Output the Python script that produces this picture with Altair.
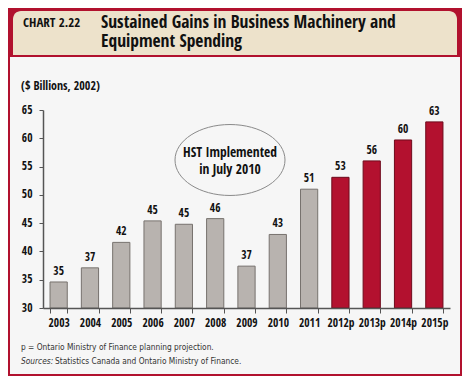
import altair as alt
import pandas as pd

years = ["2003", "2004", "2005", "2006", "2007", "2008", "2009", "2010", "2011",
         "2012p", "2013p", "2014p", "2015p"]
values = [34.6, 37.1, 41.6, 45.4, 44.8, 45.8, 37.4, 43.0, 51.0, 53.1, 56.0, 59.7, 62.9]
value_labels = ["35", "37", "42", "45", "45", "46", "37", "43", "51", "53", "56", "60", "63"]
kinds = ["actual"] * 9 + ["projection"] * 4
y_ticks = [30, 35, 40, 45, 50, 55, 60, 65]

df = pd.DataFrame({"year": years, "value": values, "label": value_labels, "kind": kinds})

FONT = "Open Sans Condensed, Liberation Sans"
FOOT = "DejaVu Sans Condensed, Liberation Sans"
RED = "#B3112F"
GRAY = "#B8B3AF"

one = pd.DataFrame({"a": [0]})

def txt(s, x, y, size=12, weight="bold", style="normal", align="left", color="#111111", font=FONT):
    return alt.Chart(one).mark_text(
        text=s, align=align, baseline="alphabetic", fontSize=size, fontWeight=weight,
        fontStyle=style, font=font, color=color
    ).encode(x=alt.value(x), y=alt.value(y))

panel = alt.Chart(one).mark_rect(color="#F6F6F6").encode(
    x=alt.value(-33), x2=alt.value(417), y=alt.value(-53), y2=alt.value(264))
header = alt.Chart(one).mark_rect(
    color="#EDE2CB", cornerRadiusTopLeft=8, cornerRadiusTopRight=8).encode(
    x=alt.value(-30), x2=alt.value(414), y=alt.value(-99), y2=alt.value(-55))

ellipse = alt.Chart(one).mark_point(
    shape="M -1 0 A 1 0.645 0 1 1 1 0 A 1 0.645 0 1 1 -1 0 Z",
    size=12100, filled=False, stroke="#8A8A8A", strokeWidth=1, opacity=1
).encode(x=alt.value(187), y=alt.value(50))

x_enc = alt.X("year:N", sort=years, title=None,
              scale=alt.Scale(paddingInner=0.45, paddingOuter=0.225),
              axis=alt.Axis(labelAngle=0, labelFont=FONT, labelFontSize=11.5,
                            labelFontWeight="bold", labelColor="#111111", labelOverlap=False,
                            tickBand="extent", tickSize=5, labelPadding=4, zindex=1,
                            domainColor="#555555", tickColor="#555555", domainWidth=1.5))
y_enc = alt.Y("value:Q", title=None,
              scale=alt.Scale(domain=[30, 65], zero=False, nice=False),
              axis=alt.Axis(values=y_ticks, grid=False, labelFont=FONT, labelFontSize=11.5,
                            labelFontWeight="bold", labelColor="#111111", tickSize=4, zindex=1,
                            labelOverlap=False, labelFlush=False,
                            labelPadding=7, domainColor="#555555", tickColor="#555555",
                            domainWidth=1.5))

color = alt.Color("kind:N", scale=alt.Scale(domain=["actual", "projection"], range=[GRAY, RED]),
                  legend=None)
stroke = alt.Stroke("kind:N", scale=alt.Scale(domain=["actual", "projection"],
                                               range=["#77726E", "#6E0A1C"]), legend=None)

bars = alt.Chart(df).mark_bar(strokeWidth=1).encode(
    x=x_enc, y=y_enc, y2=alt.datum(30), color=color, stroke=stroke)
labels = alt.Chart(df).mark_text(
    baseline="bottom", dy=-5, font=FONT, fontSize=11.5, fontWeight="bold", color="#111111"
).encode(x=x_enc, y=y_enc, text="label:N")

chart = alt.layer(
    panel, header,
    txt("CHART 2.22", -20, -82.7, size=13),
    txt("Sustained Gains in Business Machinery and", 58, -82, size=17.5),
    txt("Equipment Spending", 58, -63.5, size=17.5),
    txt("($ Billions, 2002)", -22, -20, size=12),
    ellipse,
    txt("HST Implemented", 187, 47, size=13.5, align="center"),
    txt("in July 2010", 187, 64, size=13.5, align="center"),
    bars, labels,
    txt("p = Ontario Ministry of Finance planning projection.", -22, 240, size=8.3,
        weight="normal", font=FOOT, color="#333333"),
    txt("Sources:", -22, 254, size=8.3, weight="normal", style="italic", font=FOOT, color="#333333"),
    txt("Statistics  Canada and Ontario Ministry of Finance.", 12, 254, size=8.3,
        weight="normal", font=FOOT, color="#333333"),
).properties(
    width=407, height=198,
    padding={"left": 35, "top": 102, "right": 12, "bottom": 68},
    autosize="none",
    background="#B1112E",
).configure_view(strokeWidth=0)

chart.save("out.html", embed_options={"renderer": "svg", "actions": False})
